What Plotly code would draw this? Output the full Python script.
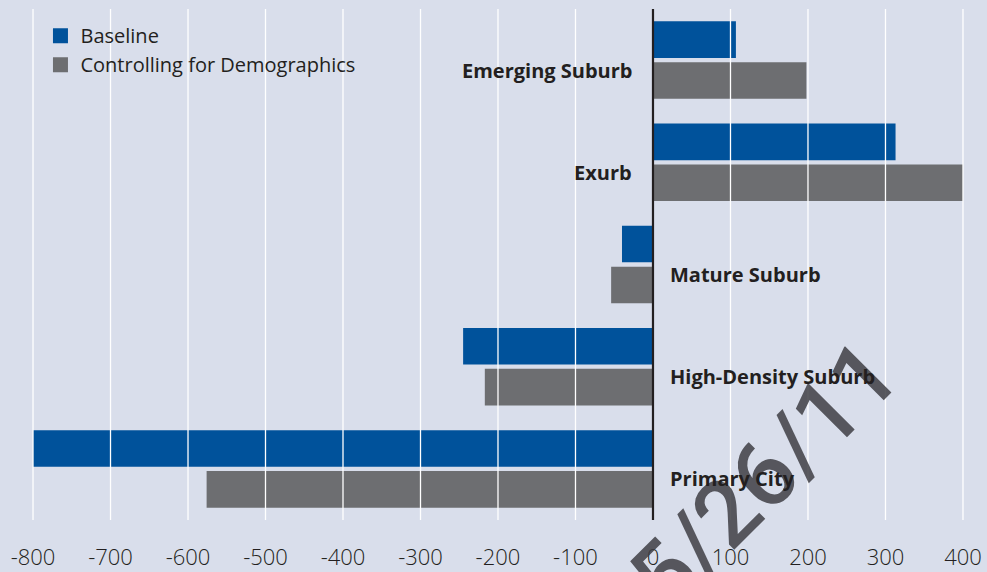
import plotly.graph_objects as go

# Change in commute distance by community type (values in the chart's units)
categories = ["Emerging Suburb", "Exurb", "Mature Suburb", "High-Density Suburb", "Primary City"]
baseline = [107, 313, -40, -245, -800]
controlling = [198, 400, -54, -217, -576]
series_names = ["Baseline", "Controlling for Demographics"]
tick_values = list(range(-800, 401, 100))
tick_labels = [str(v) for v in tick_values]
stamp = "5/26/11"

BLUE = "#00529b"
GRAY = "#6d6e71"
BG = "#d9deeb"
INK = "#231f20"
FONT = "Open Sans"

fig = go.Figure()

for name, values, color in [(series_names[0], baseline, BLUE),
                            (series_names[1], controlling, GRAY)]:
    fig.add_trace(go.Bar(
        y=categories, x=values, orientation="h", name=name,
        marker=dict(color=color, line_width=0), showlegend=False,
    ))

# Square legend swatches
for name, color in [(series_names[0], BLUE), (series_names[1], GRAY)]:
    fig.add_trace(go.Scatter(
        x=[None], y=[None], mode="markers", name=name,
        marker=dict(symbol="square", size=15, color=color),
    ))

# White vertical gridlines drawn over the bars, plus the dark zero line
shapes = []
for v in tick_values:
    if v == 0:
        continue
    shapes.append(dict(type="line", xref="x", yref="paper", x0=v, x1=v, y0=0, y1=1,
                       line=dict(color="white", width=1.3), layer="above"))
shapes.append(dict(type="line", xref="x", yref="paper", x0=0, x1=0, y0=0, y1=1,
                   line=dict(color=INK, width=2.2), layer="above"))

annotations = [dict(
    text=stamp, xref="x", yref="paper", x=143, y=0.088,
    textangle=-45, showarrow=False, xanchor="center", yanchor="middle",
    font=dict(family="Roboto", size=92, color="rgba(62,62,68,0.85)", weight=500),
)]

# Category labels sit beside the zero line, opposite the bars
for cat, b in zip(categories, baseline):
    right_side = b < 0
    annotations.append(dict(
        text=cat, xref="x", yref="y", x=0, y=cat, showarrow=False,
        xanchor="left" if right_side else "right",
        xshift=15 if right_side else -19, yshift=-10,
        font=dict(family=FONT, size=20, color=INK, weight="bold"),
    ))

fig.update_layout(
    width=987, height=572,
    margin=dict(l=0, r=0, t=9, b=52, pad=0),
    paper_bgcolor=BG, plot_bgcolor=BG,
    barmode="group", bargap=0.2, bargroupgap=0.105,
    font=dict(family=FONT, color=INK),
    showlegend=True,
    legend=dict(x=0.041, y=0.986, xanchor="left", yanchor="top",
                bgcolor="rgba(0,0,0,0)", font=dict(family=FONT, size=20, color=INK),
                tracegroupgap=0, itemclick=False),
    shapes=shapes, annotations=annotations,
    xaxis=dict(range=[-842.6, 431], tickvals=tick_values, ticktext=tick_labels,
               showgrid=False, zeroline=False, showline=False, ticks="",
               ticklabelstandoff=22,
               tickfont=dict(family=FONT, size=22, color=INK, weight=300)),
    yaxis=dict(categoryorder="array", categoryarray=categories, autorange="reversed",
               showticklabels=False, showgrid=False, zeroline=False, showline=False),
)

fig.write_html("out.html")
